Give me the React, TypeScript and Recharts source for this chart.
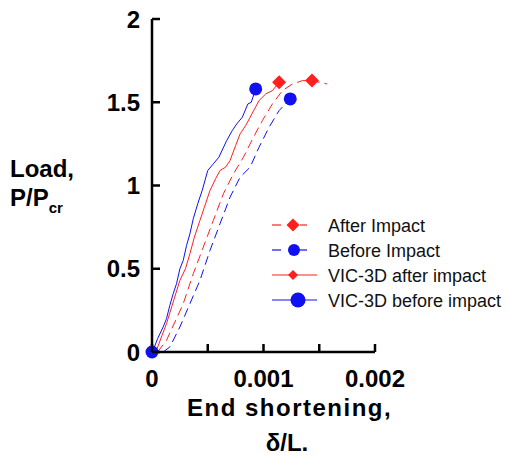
import { ComposedChart, Line, Scatter, XAxis, YAxis } from 'recharts'

interface Point {
  x: number
  y: number
}

const X_TICKS = [0, 0.0005, 0.001, 0.0015, 0.002]
const X_TICK_LABELS: Record<string, string> = { '0': '0', '0.001': '0.001', '0.002': '0.002' }
const Y_TICKS = [0, 0.5, 1, 1.5, 2]

// dashed red, test "After Impact"
const afterImpact: Point[] = [
  { x: 0.00005, y: 0 }, { x: 0.00013, y: 0.07 }, { x: 0.00028, y: 0.29 },
  { x: 0.00037, y: 0.47 }, { x: 0.00046, y: 0.63 }, { x: 0.00055, y: 0.79 },
  { x: 0.00064, y: 0.95 }, { x: 0.00073, y: 1.07 }, { x: 0.00082, y: 1.17 },
  { x: 0.00091, y: 1.29 }, { x: 0.00099, y: 1.39 }, { x: 0.00108, y: 1.49 },
  { x: 0.00117, y: 1.57 }, { x: 0.00126, y: 1.61 }, { x: 0.00135, y: 1.63 },
  { x: 0.00144, y: 1.63 }, { x: 0.00157, y: 1.61 },
]

// dashed blue, test "Before Impact"
const beforeImpact: Point[] = [
  { x: 0.0001, y: 0 }, { x: 0.00016, y: 0.03 }, { x: 0.00025, y: 0.15 },
  { x: 0.00034, y: 0.29 }, { x: 0.00043, y: 0.43 }, { x: 0.00052, y: 0.61 },
  { x: 0.00061, y: 0.77 }, { x: 0.0007, y: 0.93 }, { x: 0.00079, y: 1.05 },
  { x: 0.00088, y: 1.11 }, { x: 0.00096, y: 1.23 }, { x: 0.00105, y: 1.35 },
  { x: 0.00114, y: 1.45 }, { x: 0.00124, y: 1.52 },
]

// solid red, VIC-3D after impact
const vicAfter: Point[] = [
  { x: 0, y: 0 }, { x: 0.00004, y: 0.01 }, { x: 0.00009, y: 0.1 },
  { x: 0.00013, y: 0.17 }, { x: 0.00019, y: 0.3 }, { x: 0.00025, y: 0.43 },
  { x: 0.0003, y: 0.5 }, { x: 0.00034, y: 0.59 }, { x: 0.00038, y: 0.69 },
  { x: 0.00043, y: 0.79 }, { x: 0.00047, y: 0.87 }, { x: 0.00052, y: 0.97 },
  { x: 0.00057, y: 1.04 }, { x: 0.00061, y: 1.09 }, { x: 0.00066, y: 1.11 },
  { x: 0.0007, y: 1.15 }, { x: 0.00075, y: 1.24 }, { x: 0.00079, y: 1.31 },
  { x: 0.00084, y: 1.36 }, { x: 0.00088, y: 1.41 }, { x: 0.00092, y: 1.46 },
  { x: 0.00096, y: 1.51 }, { x: 0.00102, y: 1.55 }, { x: 0.00108, y: 1.57 },
  { x: 0.00114, y: 1.62 },
]

// solid blue, VIC-3D before impact
const vicBefore: Point[] = [
  { x: 0, y: 0 }, { x: 0.00001, y: 0.01 }, { x: 0.00005, y: 0.08 },
  { x: 0.0001, y: 0.15 }, { x: 0.00013, y: 0.2 }, { x: 0.00016, y: 0.28 },
  { x: 0.00019, y: 0.35 }, { x: 0.00022, y: 0.41 }, { x: 0.00025, y: 0.5 },
  { x: 0.00028, y: 0.55 }, { x: 0.00031, y: 0.64 }, { x: 0.00034, y: 0.71 },
  { x: 0.00037, y: 0.8 }, { x: 0.00041, y: 0.89 }, { x: 0.00045, y: 0.97 },
  { x: 0.0005, y: 1.09 }, { x: 0.00055, y: 1.13 }, { x: 0.0006, y: 1.17 },
  { x: 0.00067, y: 1.27 }, { x: 0.00072, y: 1.33 }, { x: 0.00076, y: 1.37 },
  { x: 0.00081, y: 1.41 }, { x: 0.00086, y: 1.49 }, { x: 0.00089, y: 1.5 },
  { x: 0.00093, y: 1.58 },
]

const afterImpactMarkers: Point[] = [{ x: 0.001435, y: 1.63 }]
const beforeImpactMarkers: Point[] = [{ x: 0.00124, y: 1.52 }]
const vicAfterMarkers: Point[] = [{ x: 0.00114, y: 1.62 }]
const vicBeforeMarkers: Point[] = [{ x: 0, y: 0 }, { x: 0.00093, y: 1.58 }]

const LEGEND_LABELS = ['After Impact', 'Before Impact', 'VIC-3D after impact', 'VIC-3D before impact']

const RED = '#ff1f1f'
const BLUE = '#1010f0'
const FONT = 'Arial, "Liberation Sans", sans-serif'

function diamond(cx: number, cy: number, r: number, color: string) {
  return (
    <polygon
      points={`${cx},${cy - r} ${cx + r},${cy} ${cx},${cy + r} ${cx - r},${cy}`}
      fill={color}
    />
  )
}

function XTick({ x, y, payload }: any) {
  const label = X_TICK_LABELS[String(payload.value)]
  return (
    <g>
      <line x1={x} x2={x} y1={y} y2={y - 8} stroke="#000" strokeWidth={2.5} />
      {label && (
        <text x={x} y={y + 35} textAnchor="middle" fontFamily={FONT} fontWeight="bold" fontSize={24} fill="#000">
          {label}
        </text>
      )}
    </g>
  )
}

function YTick({ x, y, payload }: any) {
  return (
    <g>
      <line x1={x} x2={x + 8} y1={y} y2={y} stroke="#000" strokeWidth={2.5} />
      <text x={x - 12} y={y + 8.5} textAnchor="end" fontFamily={FONT} fontWeight="bold" fontSize={24} fill="#000">
        {String(payload.value)}
      </text>
    </g>
  )
}

function Legend() {
  const rowY = [225, 250, 275, 300]
  return (
    <svg width={509} height={458} style={{ position: 'absolute', left: 0, top: 0, pointerEvents: 'none' }}>
      {/* After Impact */}
      <line x1={272} x2={281} y1={rowY[0]} y2={rowY[0]} stroke={RED} strokeWidth={1.2} />
      <line x1={300} x2={307} y1={rowY[0]} y2={rowY[0]} stroke={RED} strokeWidth={1.2} />
      {diamond(293, rowY[0], 6.5, RED)}
      {/* Before Impact */}
      <line x1={272} x2={281} y1={rowY[1]} y2={rowY[1]} stroke={BLUE} strokeWidth={1.2} />
      <line x1={300} x2={307} y1={rowY[1]} y2={rowY[1]} stroke={BLUE} strokeWidth={1.2} />
      <circle cx={294} cy={rowY[1]} r={6} fill={BLUE} />
      {/* VIC-3D after impact */}
      <line x1={272} x2={317} y1={rowY[2]} y2={rowY[2]} stroke={RED} strokeWidth={1.2} />
      {diamond(293, rowY[2], 5, RED)}
      {/* VIC-3D before impact */}
      <line x1={272} x2={317} y1={rowY[3]} y2={rowY[3]} stroke={BLUE} strokeWidth={1.2} />
      <circle cx={298} cy={rowY[3]} r={7.5} fill={BLUE} />
      {LEGEND_LABELS.map((label, i) => (
        <text key={label} x={328} y={rowY[i] + 6.5} fontFamily={FONT} fontSize={18} fill="#111">
          {label}
        </text>
      ))}
    </svg>
  )
}

export default function App() {
  return (
    <div style={{ position: 'absolute', left: 0, top: 0, width: 509, height: 458, background: '#fff', fontFamily: FONT }}>
      <ComposedChart width={509} height={458} margin={{ top: 19, right: 134, bottom: 76, left: 92 }}>
        <XAxis
          type="number"
          dataKey="x"
          domain={[0, 0.002]}
          ticks={X_TICKS}
          height={30}
          tickSize={0}
          tickMargin={0}
          tickLine={false}
          tick={<XTick />}
          axisLine={{ stroke: '#000', strokeWidth: 2.5 }}
        />
        <YAxis
          type="number"
          dataKey="y"
          domain={[0, 2]}
          ticks={Y_TICKS}
          width={60}
          tickSize={0}
          tickMargin={0}
          tickLine={false}
          tick={<YTick />}
          axisLine={{ stroke: '#000', strokeWidth: 2.5 }}
        />
        <Line data={afterImpact} dataKey="y" type="linear" stroke={RED} strokeWidth={1} strokeDasharray="9 5" dot={false} isAnimationActive={false} />
        <Line data={beforeImpact} dataKey="y" type="linear" stroke={BLUE} strokeWidth={1} strokeDasharray="9 5" dot={false} isAnimationActive={false} />
        <Line data={vicAfter} dataKey="y" type="linear" stroke={RED} strokeWidth={1} dot={false} isAnimationActive={false} />
        <Line data={vicBefore} dataKey="y" type="linear" stroke={BLUE} strokeWidth={1} dot={false} isAnimationActive={false} />
        <Scatter data={afterImpactMarkers} dataKey="y" isAnimationActive={false} shape={(p: any) => diamond(p.cx, p.cy, 7, RED)} />
        <Scatter data={beforeImpactMarkers} dataKey="y" isAnimationActive={false} shape={(p: any) => <circle cx={p.cx} cy={p.cy} r={6.5} fill={BLUE} />} />
        <Scatter data={vicAfterMarkers} dataKey="y" isAnimationActive={false} shape={(p: any) => diamond(p.cx, p.cy, 7, RED)} />
        <Scatter data={vicBeforeMarkers} dataKey="y" isAnimationActive={false} shape={(p: any) => <circle cx={p.cx} cy={p.cy} r={6.5} fill={BLUE} />} />
      </ComposedChart>

      <div style={{ position: 'absolute', left: 10, top: 154, fontWeight: 'bold', fontSize: 24, lineHeight: '29px', color: '#000' }}>
        Load,
        <br />
        P/P<sub style={{ fontSize: 15, verticalAlign: 'baseline', position: 'relative', top: 7 }}>cr</sub>
      </div>

      <div style={{ position: 'absolute', left: 187, width: 200, top: 390, textAlign: 'center', fontWeight: 'bold', fontSize: 24, lineHeight: '35px', color: '#000' }}>
        <span style={{ letterSpacing: 1.5, whiteSpace: 'nowrap' }}>End shortening,</span>
        <br />
        δ/L.
      </div>

      <Legend />
    </div>
  )
}
